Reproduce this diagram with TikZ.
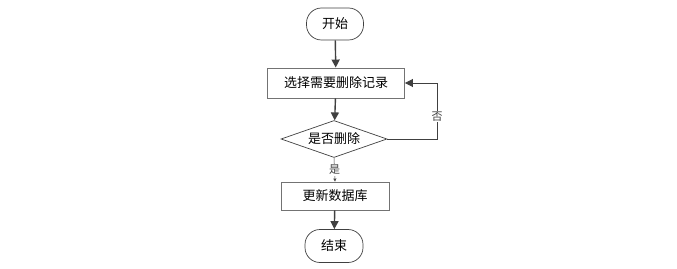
\documentclass[tikz,border=0pt]{standalone}
\usepackage{fontspec}
\usepackage{tikz}
\usetikzlibrary{arrows.meta,shapes.geometric}
\newfontfamily\cjk{Noto Sans CJK SC}
\definecolor{flowgray}{RGB}{64, 64, 64}

\begin{document}
\begin{tikzpicture}[x=1pt, y=1pt,
    terminal/.style={draw=flowgray, rounded corners=15pt, fill=white, line width=0.7pt, minimum width=57pt, minimum height=32pt, font=\cjk\fontsize{13}{13}\selectfont},
    process/.style={draw=black!55, fill=white, line width=0.9pt, minimum width=137pt, minimum height=30pt, font=\cjk\fontsize{13}{13}\selectfont},
    decision/.style={draw=flowgray, diamond, aspect=2.86, inner sep=0pt, fill=white, line width=0.7pt, minimum width=106pt, minimum height=37pt, font=\cjk\fontsize{13}{13}\selectfont},
    flow/.style={draw=flowgray, line width=1.4pt, -{Triangle[length=8pt, width=8pt]}}]
    \useasboundingbox (0,0) rectangle (677,268);
    \node[terminal] (start) at (335,244) {开始};
    \node[process] (select) at (336,185) {选择需要删除记录};
    \node[decision] (ask) at (334,129) {是否删除};
    \node[process, minimum width=108pt, minimum height=28pt] (update) at (335,72) {更新数据库};
    \node[terminal, minimum width=58pt, minimum height=33pt] (stop) at (334,22) {结束};
    \coordinate (turn) at (437,129);
    \draw[flow] (start) -- (select);
    \draw[flow] (select) -- (ask);
    \draw[flow] (update) -- (stop);
    % no: back to the selection
    \draw[flowgray, line width=0.9pt, -{Triangle[length=8pt, width=8pt]}] (ask.east) -- (turn) |- (select.east)
        node[pos=0.2, fill=white, inner sep=1pt, font=\cjk\fontsize{11}{11}\selectfont] {否};
    % yes: on to the update
    \draw[flowgray, line width=0.5pt, -{Triangle[length=3pt, width=3pt]}] (ask.south) -- (update.north)
        node[midway, fill=white, inner sep=1pt, font=\cjk\fontsize{11}{11}\selectfont] {是};
\end{tikzpicture}
\end{document}
